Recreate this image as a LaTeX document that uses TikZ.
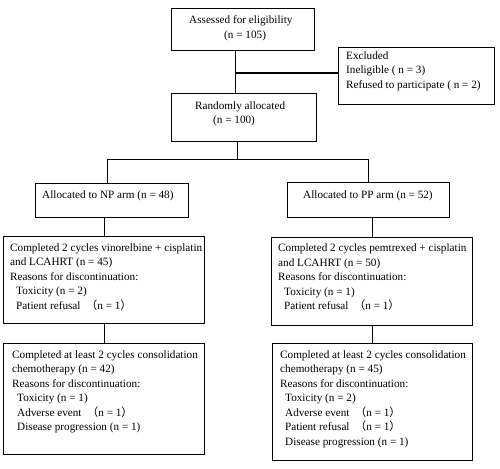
\documentclass[tikz,border=0pt]{standalone}
\usepackage{fontspec}
\setmainfont{Liberation Serif}
\newfontfamily\cjk{Noto Sans CJK SC}
\newcommand{\fwl}{{\cjk （}}
\newcommand{\fwr}{{\cjk ）}}
\begin{document}
\begin{tikzpicture}[x=1pt,y=-1pt,
  box/.style={draw=black,line width=1.3pt,rectangle,inner sep=0pt,anchor=north west},
  txt/.style={inner sep=0pt,anchor=north west,align=left,font=\fontsize{11.2}{14.5}\selectfont},
  conn/.style={draw=black,line width=1.3pt}]
\useasboundingbox (0,0) rectangle (500,468);
\fill[white] (0,0) rectangle (500,468);
% boxes
\node[box,minimum width=143pt,minimum height=42pt] (assess) at (171,8) {};
\node[box,minimum width=145pt,minimum height=48pt] (rand) at (171,93) {};
\node[box,minimum width=156pt,minimum height=57pt] (excl) at (338,47) {};
\node[box,minimum width=153pt,minimum height=34pt] (np) at (35,183) {};
\node[box,minimum width=162pt,minimum height=35pt] (pp) at (287,182) {};
\node[box,minimum width=201pt,minimum height=87pt] (np1) at (3,236) {};
\node[box,minimum width=201pt,minimum height=88pt] (pp1) at (271,237) {};
\node[box,minimum width=201pt,minimum height=111pt] (np2) at (3,343) {};
\node[box,minimum width=200pt,minimum height=117pt] (pp2) at (272,343) {};
% texts
\node[txt] (assessT) at (189,15.5) {Assessed for eligibility\\\hspace*{35pt}(n = 105)};
\node[txt] (randT) at (195,101.5) {Randomly allocated\\\hspace*{18pt}(n = 100)};
\node[txt] (exclT) at (346,51.5) {Excluded\\Ineligible ( n = 3)\\Refused to participate ( n = 2)};
\node[txt] (npT) at (42,191) {Allocated to NP arm (n = 48)};
\node[txt] (ppT) at (303,191) {Allocated to PP arm (n = 52)};
\node[txt] (np1T) at (10,243.5) {Completed 2 cycles vinorelbine + cisplatin\\and LCAHRT (n = 45)\\Reasons for discontinuation:\\\hspace*{6pt}Toxicity (n = 2)\\\hspace*{6pt}Patient refusal \ \fwl n = 1\fwr};
\node[txt] (pp1T) at (278,244) {Completed 2 cycles pemtrexed + cisplatin\\and LCAHRT (n = 50)\\Reasons for discontinuation:\\\hspace*{6pt}Toxicity (n = 1)\\\hspace*{6pt}Patient refusal \ \fwl n = 1\fwr};
\node[txt] (np2T) at (12,350.5) {Completed at least 2 cycles consolidation\\chemotherapy (n = 42)\\Reasons for discontinuation:\\\hspace*{5pt}Toxicity (n = 1)\\\hspace*{5pt}Adverse event \ \fwl n = 1\fwr\\\hspace*{5pt}Disease progression (n = 1)};
\node[txt] (pp2T) at (280,350.5) {Completed at least 2 cycles consolidation\\chemotherapy (n = 45)\\Reasons for discontinuation:\\\hspace*{5pt}Toxicity (n = 2)\\\hspace*{5pt}Adverse event \ \fwl n = 1\fwr\\\hspace*{5pt}Patient refusal \ \fwl n = 1\fwr\\\hspace*{5pt}Disease progression (n = 1)};
% connectors
\coordinate (top1) at ([xshift=-7.5pt]assess.south);
\coordinate (branch) at (top1 |- 0,73);
\draw[conn] (top1) -- (top1 |- rand.north);
\draw[conn] (branch) -- (branch -| excl.west);
\coordinate (rs) at ([xshift=-6.5pt]rand.south);
\coordinate (split) at (rs |- 0,159.5);
\coordinate (npIn) at ([xshift=-4.5pt]np.north);
\coordinate (ppIn) at (pp.north);
\draw[conn] (rs) -- (split);
\draw[conn] (npIn) -- (npIn |- split) -- (ppIn |- split) -- (ppIn);
\draw[conn] (np1.north |- np.south) -- (np1.north);
\draw[conn] (np1.south) -- (np2.north);
\draw[conn] (pp1.north |- pp.south) -- (pp1.north);
\draw[conn] (pp1.south -| pp1.north) -- (pp2.north -| pp1.north);
\end{tikzpicture}
\end{document}
